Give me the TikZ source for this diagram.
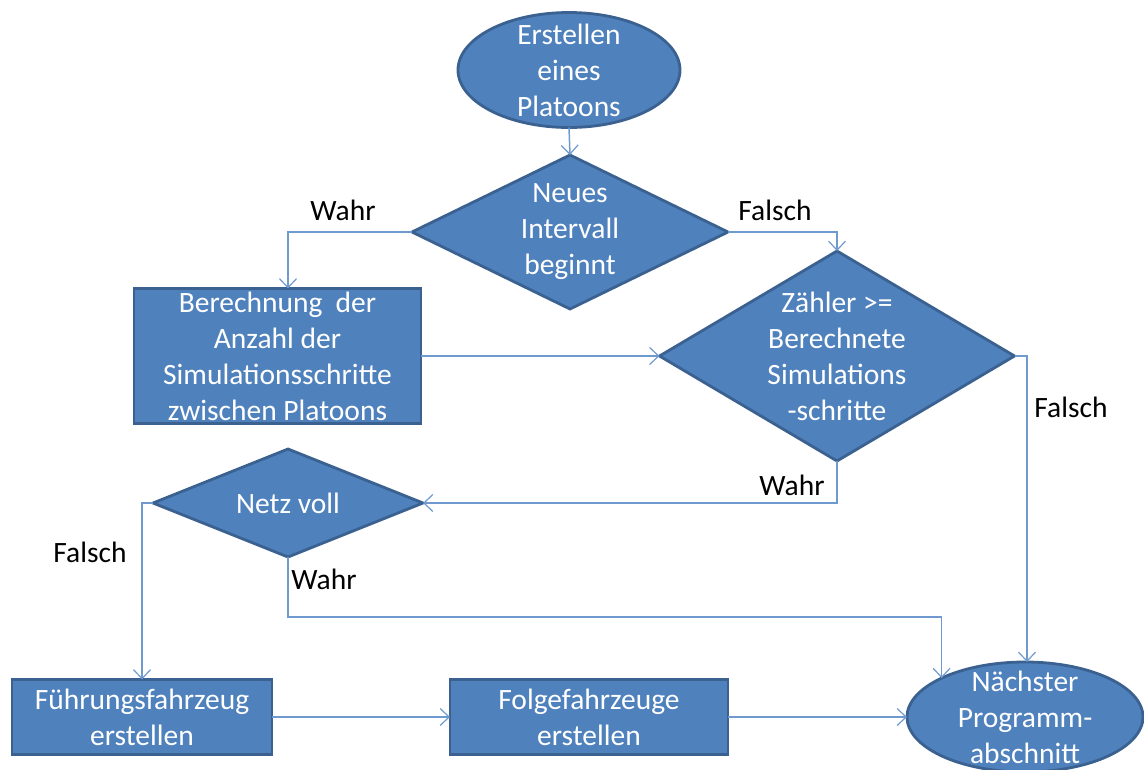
\documentclass[tikz,border=0pt]{standalone}
\usepackage{fontspec}
\setmainfont{Carlito}
\usetikzlibrary{shapes.geometric,arrows.meta}
\definecolor{fillblue}{HTML}{4F81BD}
\definecolor{edgeblue}{HTML}{3A6190}
\definecolor{lineblue}{HTML}{6F9AD0}
\begin{document}
\begin{tikzpicture}[x=1pt,y=-1pt,
 every node/.style={font=\fontsize{29.5}{36}\selectfont},
 shapebase/.style={fill=fillblue, draw=edgeblue, line width=2.8pt, inner sep=0pt, outer sep=0pt},
 procbox/.style={shapebase, rectangle, text=white, align=center},
 decision/.style={shapebase, diamond},
 terminal/.style={shapebase, ellipse},
 intext/.style={text=white, align=center, inner sep=0pt},
 conn/.style={draw=lineblue, line width=1.5pt, -{Straight Barb[length=9pt,width=17pt,line width=1.2pt]}},
 lbl/.style={text=black, inner sep=0pt}
]
\useasboundingbox (0,0) rectangle (1144,769);

% shapes
\node[terminal, minimum width=222pt, minimum height=115pt] (e1) at (569,70) {};
\node[intext] (e1t) at (e1.center) {Erstellen\\eines\\Platoons};

\node[decision, minimum width=316pt, minimum height=154pt] (d1) at (570,232) {};
\node[intext] (d1t) at (d1.center) {Neues\\Intervall\\beginnt};

\node[procbox, minimum width=287pt, minimum height=135pt] (b1) at (277.5,356) {Berechnung\ \ der\\Anzahl der\\Simulationsschritte\\zwischen Platoons};

\node[decision, minimum width=355pt, minimum height=210pt] (d2) at (837,356) {};
\node[intext] (d2t) at (d2.center) {Zähler >=\\Berechnete\\Simulations\\-schritte};

\node[decision, minimum width=270pt, minimum height=108pt] (d3) at (288,503) {};
\node[intext] (d3t) at (d3.center) {Netz voll};

\node[procbox, minimum width=260pt, minimum height=75pt] (b2) at (142,717) {Führungsfahrzeug\\erstellen};
\node[procbox, minimum width=278pt, minimum height=75pt] (b3) at (589,717) {Folgefahrzeuge\\erstellen};

\node[terminal, minimum width=236pt, minimum height=110pt] (e2) at (1025,717) {};
\node[intext] (e2t) at (e2.center) {Nächster\\Programm-\\abschnitt};

% connectors
\draw[conn] (e1.south) -- (d1.north);
\draw[conn] (d1.west) -| ([xshift=10.5pt]b1.north);
\draw[conn] (d1.east) -| (d2.north);
\draw[conn] (b1.east) -- (d2.west);
\draw[conn] (d2.east) -| ([xshift=2pt]e2.north);
\draw[conn] (d2.south) |- (d3.east);
\draw[conn] (d3.west) -| (b2.north);
\draw[conn] (d3.south) -- ++(0,60) -| (e2.155);
\draw[conn] (b2.east) -- (b3.west);
\draw[conn] (b3.east) -- (e2.west);

% labels
\node[lbl] (l1) at (343,210) {Wahr};
\node[lbl] (l2) at (775,210) {Falsch};
\node[lbl] (l3) at (1071,407) {Falsch};
\node[lbl] (l4) at (792,485) {Wahr};
\node[lbl] (l5) at (90,552) {Falsch};
\node[lbl] (l6) at (324,579) {Wahr};
\end{tikzpicture}
\end{document}
